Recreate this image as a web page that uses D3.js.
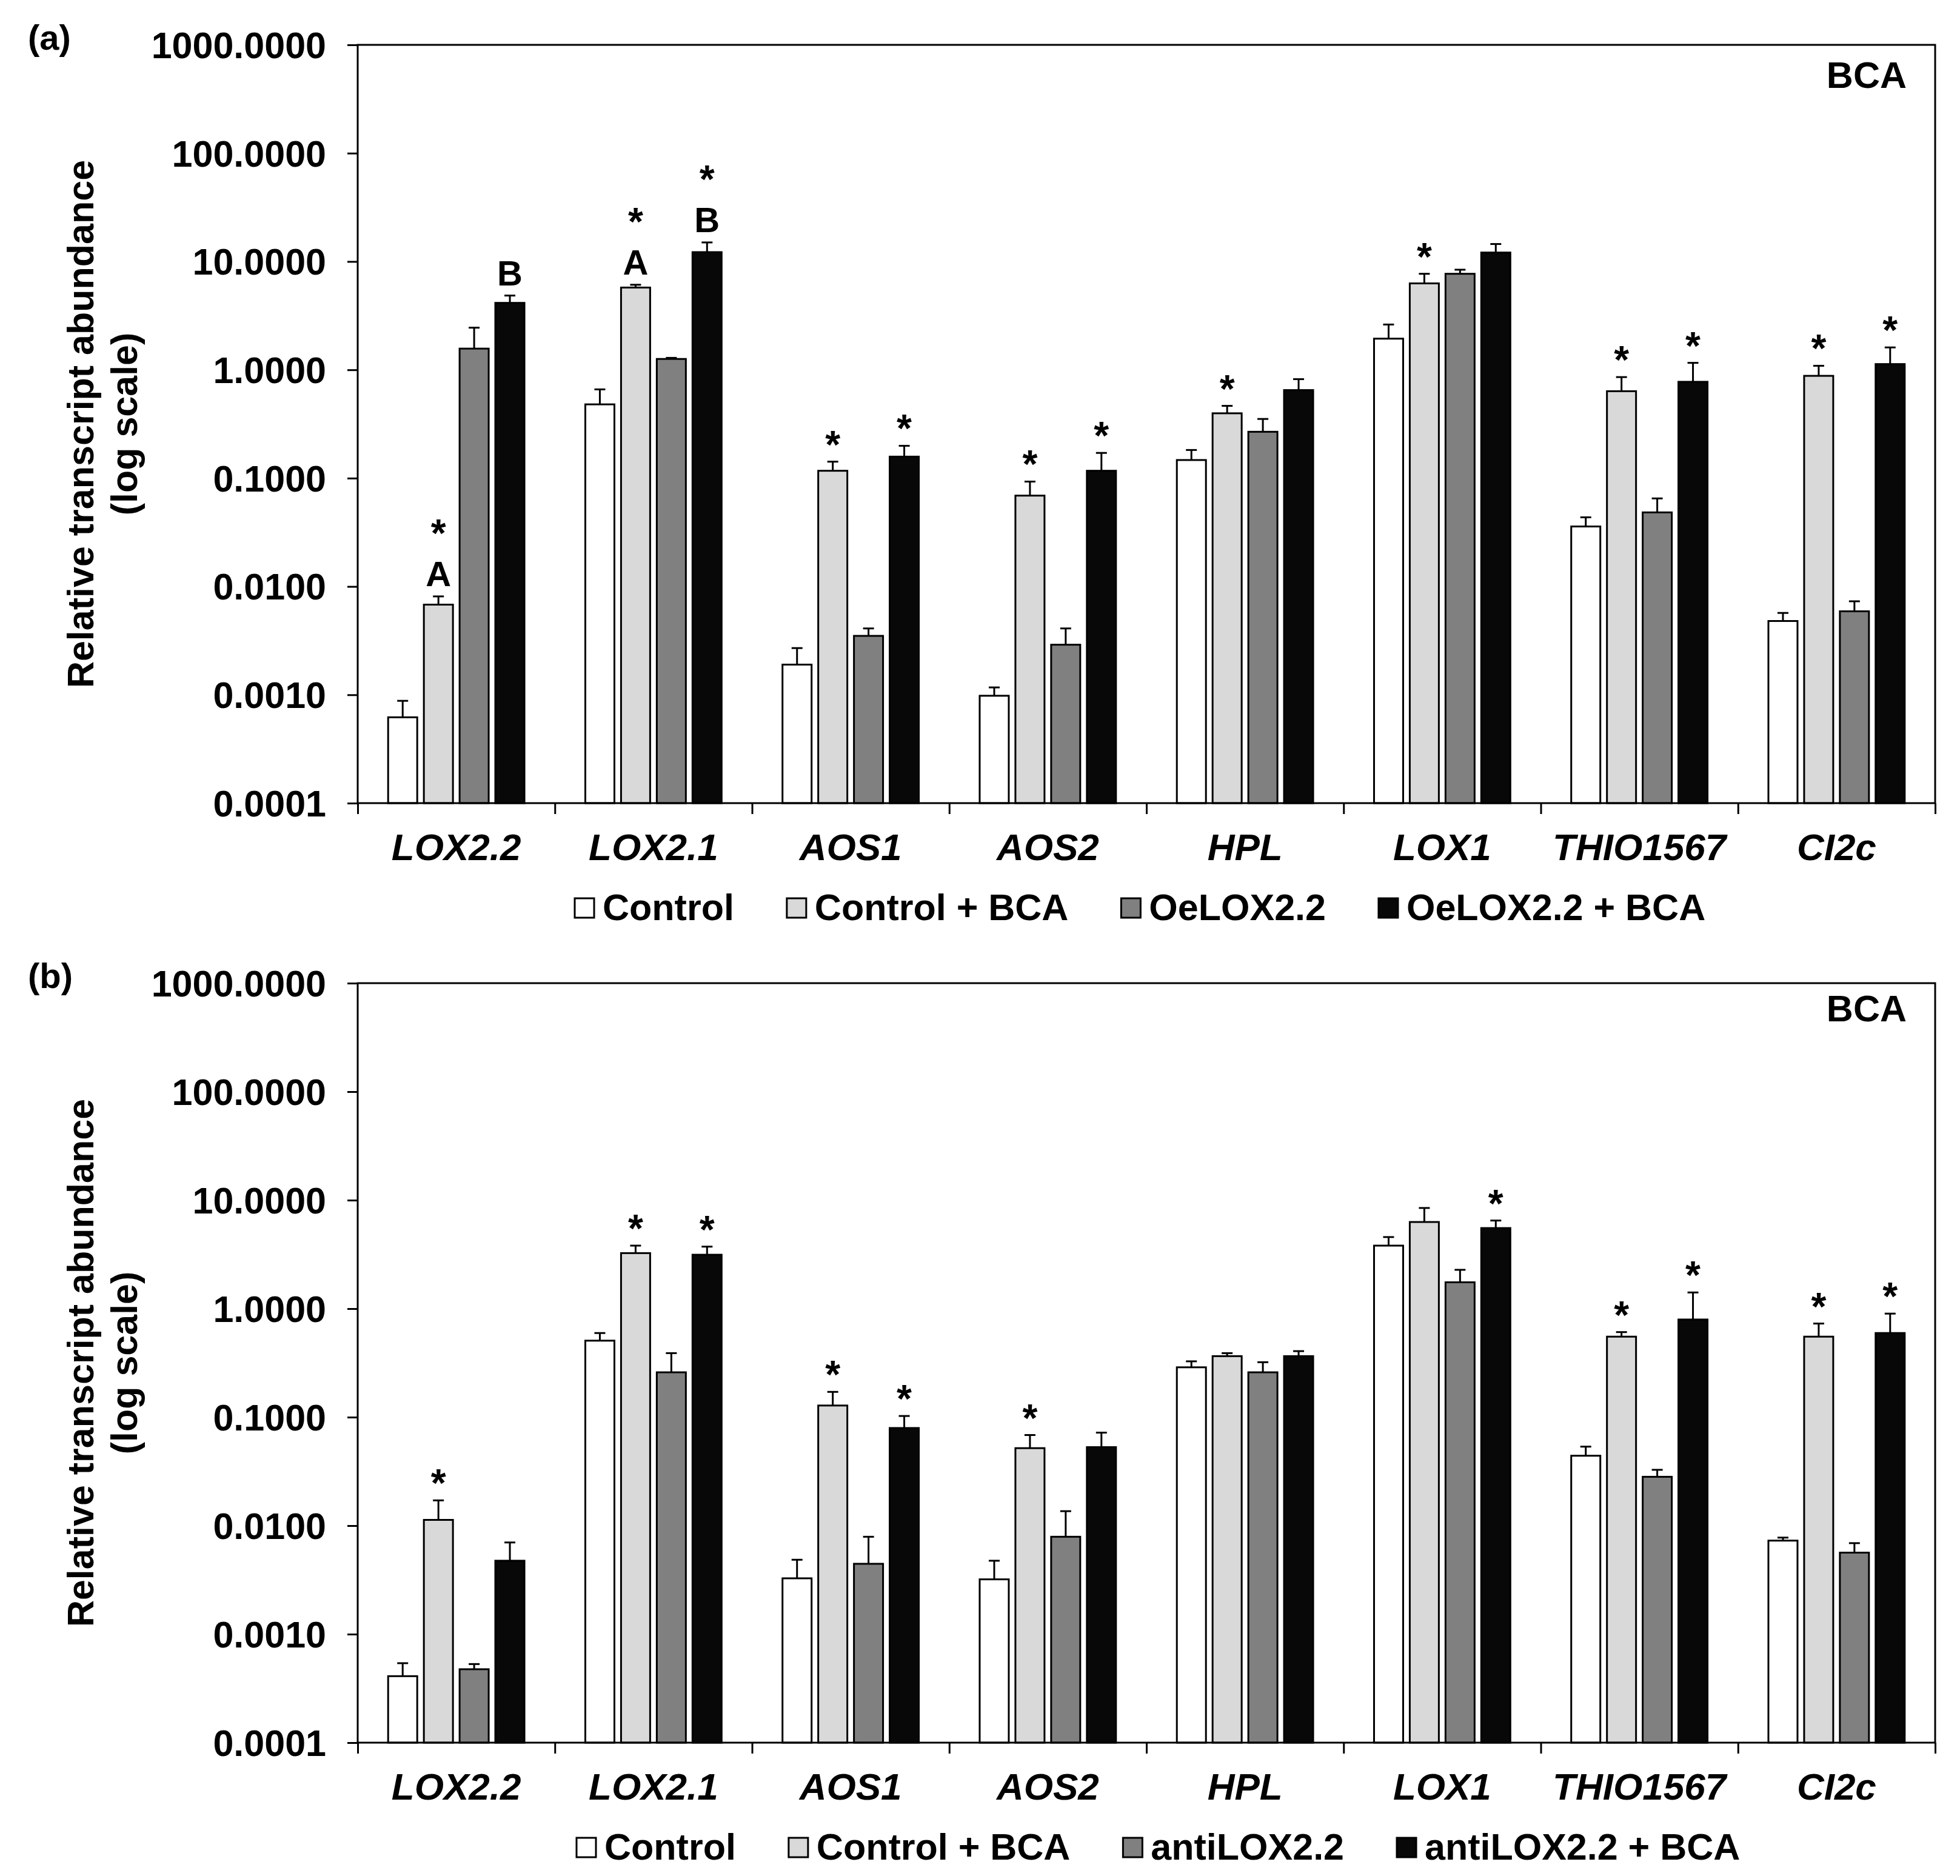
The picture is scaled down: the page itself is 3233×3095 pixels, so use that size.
<!DOCTYPE html>
<html>
<head>
<meta charset="utf-8">
<script src="https://cdn.jsdelivr.net/npm/d3@7"></script>
<style>
  body { margin: 0; background: #fff; }
  svg text { font-family: "Liberation Sans", Arial, sans-serif; font-weight: bold; fill: #000; }
</style>
</head>
<body>
<svg id="chart"></svg>
<script>
// Gene categories and treatment series
const categories = ["LOX2.2", "LOX2.1", "AOS1", "AOS2", "HPL", "LOX1", "THIO1567", "CI2c"];
const seriesA = ["Control", "Control + BCA", "OeLOX2.2", "OeLOX2.2 + BCA"];
const seriesB = ["Control", "Control + BCA", "antiLOX2.2", "antiLOX2.2 + BCA"];

// y ticks (log scale)
const yTicks = [0.0001, 0.001, 0.01, 0.1, 1, 10, 100, 1000];

// Panel (a): means and upper error bar ends, one row per gene
const meansA = [
  [0.00062, 0.0068, 1.57, 4.15],
  [0.48, 5.75, 1.26, 12.2],
  [0.0019, 0.117, 0.0035, 0.158],
  [0.00098, 0.069, 0.0029, 0.117],
  [0.147, 0.397, 0.268, 0.65],
  [1.94, 6.28, 7.7, 12.1],
  [0.0358, 0.635, 0.0483, 0.775],
  [0.0048, 0.88, 0.0059, 1.13]
];
const errTopA = [
  [0.00088, 0.0081, 2.45, 4.85],
  [0.66, 6.1, 1.29, 15.0],
  [0.0027, 0.142, 0.0041, 0.199],
  [0.00117, 0.093, 0.0041, 0.171],
  [0.182, 0.465, 0.352, 0.82],
  [2.62, 7.7, 8.4, 14.5],
  [0.0435, 0.857, 0.065, 1.16],
  [0.0057, 1.09, 0.0073, 1.61]
];
const starsA = [
  [0, 1, 0, 0],
  [0, 1, 0, 1],
  [0, 1, 0, 1],
  [0, 1, 0, 1],
  [0, 1, 0, 0],
  [0, 1, 0, 0],
  [0, 1, 0, 1],
  [0, 1, 0, 1]
];
const lettersA = [
  ["", "A", "", "B"],
  ["", "A", "", "B"],
  ["", "", "", ""],
  ["", "", "", ""],
  ["", "", "", ""],
  ["", "", "", ""],
  ["", "", "", ""],
  ["", "", "", ""]
];

// Panel (b)
const meansB = [
  [0.00041, 0.0113, 0.000475, 0.00475],
  [0.507, 3.25, 0.259, 3.14],
  [0.00327, 0.128, 0.00445, 0.0794],
  [0.0032, 0.0518, 0.0079, 0.0529],
  [0.288, 0.365, 0.259, 0.365],
  [3.81, 6.29, 1.75, 5.53],
  [0.0441, 0.552, 0.0282, 0.794],
  [0.00728, 0.552, 0.00564, 0.596]
];
const errTopB = [
  [0.00054, 0.0171, 0.00053, 0.0070],
  [0.596, 3.81, 0.389, 3.73],
  [0.00485, 0.171, 0.0079, 0.1025],
  [0.00475, 0.0684, 0.0136, 0.072],
  [0.327, 0.389, 0.321, 0.406],
  [4.57, 8.47, 2.28, 6.49],
  [0.0535, 0.608, 0.0327, 1.41],
  [0.00776, 0.729, 0.0069, 0.90]
];
const starsB = [
  [0, 1, 0, 0],
  [0, 1, 0, 1],
  [0, 1, 0, 1],
  [0, 1, 0, 0],
  [0, 0, 0, 0],
  [0, 0, 0, 1],
  [0, 1, 0, 1],
  [0, 1, 0, 1]
];
const lettersB = categories.map(() => ["", "", "", ""]);

const width = 3233, height = 3095;
const fills = ["#ffffff", "#d9d9d9", "#808080", "#080808"];

const svg = d3.select("#chart")
  .attr("width", width)
  .attr("height", height);

const plotLeft = 590, plotRight = 3192;

function drawPanel(opts) {
  const { top, bottom, series, means, errTop, stars, letters, tag, bcaY, legendX } = opts;

  const y = d3.scaleLog().domain([1e-4, 1e3]).range([bottom, top]);
  const x = d3.scaleBand().domain(categories).range([plotLeft, plotRight]);
  const xs = d3.scaleBand().domain(series).range([0, x.bandwidth()])
    .paddingInner(0.186).paddingOuter(0.852);
  const color = d3.scaleOrdinal().domain(series).range(fills);

  const g = svg.append("g");

  // bars
  const groups = g.selectAll("g.grp")
    .data(categories)
    .join("g")
    .attr("class", "grp")
    .attr("transform", d => `translate(${x(d)},0)`);

  groups.each(function (cat, ci) {
    const grp = d3.select(this);
    const rows = series.map((s, si) => ({
      s, si, v: means[ci][si], e: errTop[ci][si],
      star: stars[ci][si], letter: letters[ci][si]
    }));

    // error bars (upper only)
    grp.selectAll("line.err")
      .data(rows)
      .join("line")
      .attr("x1", d => xs(d.s) + xs.bandwidth() / 2)
      .attr("x2", d => xs(d.s) + xs.bandwidth() / 2)
      .attr("y1", d => y(d.v))
      .attr("y2", d => y(d.e))
      .attr("stroke", "#000")
      .attr("stroke-width", 3);
    grp.selectAll("line.cap")
      .data(rows)
      .join("line")
      .attr("x1", d => xs(d.s) + xs.bandwidth() / 2 - 9)
      .attr("x2", d => xs(d.s) + xs.bandwidth() / 2 + 9)
      .attr("y1", d => y(d.e))
      .attr("y2", d => y(d.e))
      .attr("stroke", "#000")
      .attr("stroke-width", 3);

    grp.selectAll("rect")
      .data(rows)
      .join("rect")
      .attr("x", d => xs(d.s))
      .attr("width", xs.bandwidth())
      .attr("y", d => y(d.v))
      .attr("height", d => bottom - y(d.v))
      .attr("fill", d => color(d.s))
      .attr("stroke", "#000")
      .attr("stroke-width", 3);

    // letters and significance stars
    grp.selectAll("text.letter")
      .data(rows.filter(d => d.letter))
      .join("text")
      .attr("class", "letter")
      .attr("x", d => xs(d.s) + xs.bandwidth() / 2)
      .attr("y", d => y(d.e) - 17)
      .attr("text-anchor", "middle")
      .style("font-size", "58px")
      .text(d => d.letter);

    grp.selectAll("text.star")
      .data(rows.filter(d => d.star))
      .join("text")
      .attr("class", "star")
      .attr("x", d => xs(d.s) + xs.bandwidth() / 2)
      .attr("y", d => y(d.e) - (d.letter ? 82 : 6))
      .attr("text-anchor", "middle")
      .style("font-size", "64px")
      .text("*");
  });

  // frame
  g.append("rect")
    .attr("x", plotLeft)
    .attr("y", top)
    .attr("width", plotRight - plotLeft)
    .attr("height", bottom - top)
    .attr("fill", "none")
    .attr("stroke", "#000")
    .attr("stroke-width", 3);

  // y axis
  const yAxis = g.append("g")
    .attr("transform", `translate(${plotLeft},0)`)
    .call(d3.axisLeft(y).tickValues(yTicks).tickFormat(d3.format(".4f"))
      .tickSize(17).tickPadding(35));
  yAxis.select(".domain").remove();
  yAxis.selectAll(".tick line").attr("stroke-width", 3);
  yAxis.selectAll(".tick text")
    .attr("font-family", null)
    .style("font-size", "61px")
    .attr("dy", "0.35em");
  yAxis.attr("font-family", null).attr("font-size", null);

  // x axis: boundary ticks
  const xb = d3.scaleLinear().domain([0, categories.length]).range([plotLeft, plotRight]);
  const xAxis = g.append("g")
    .attr("transform", `translate(0,${bottom})`)
    .call(d3.axisBottom(xb).ticks(categories.length).tickFormat("").tickSize(18));
  xAxis.select(".domain").remove();
  xAxis.selectAll(".tick line").attr("stroke-width", 3);

  // category labels
  g.selectAll("text.cat")
    .data(categories)
    .join("text")
    .attr("class", "cat")
    .attr("x", d => x(d) + x.bandwidth() / 2)
    .attr("y", bottom + 94)
    .attr("text-anchor", "middle")
    .style("font-size", "62px")
    .style("font-style", "italic")
    .text(d => d);

  // y title
  const cy = (top + bottom) / 2;
  g.append("text")
    .attr("transform", `translate(154,${cy}) rotate(-90)`)
    .attr("text-anchor", "middle")
    .style("font-size", "61px")
    .text("Relative transcript abundance");
  g.append("text")
    .attr("transform", `translate(226,${cy}) rotate(-90)`)
    .attr("text-anchor", "middle")
    .style("font-size", "61px")
    .text("(log scale)");

  // panel tag and BCA
  g.append("text")
    .attr("x", 46)
    .attr("y", top + 8)
    .style("font-size", "58px")
    .text(tag);
  g.append("text")
    .attr("x", 3145)
    .attr("y", top + bcaY)
    .attr("text-anchor", "end")
    .style("font-size", "61px")
    .text("BCA");

  // legend
  const legend = g.append("g")
    .attr("transform", `translate(${legendX},${bottom + 193})`);
  let lx = 0;
  series.forEach((s, i) => {
    legend.append("rect")
      .attr("x", lx)
      .attr("y", -36)
      .attr("width", 32)
      .attr("height", 32)
      .attr("fill", fills[i])
      .attr("stroke", "#000")
      .attr("stroke-width", 3);
    const t = legend.append("text")
      .attr("x", lx + 46)
      .attr("y", 0)
      .style("font-size", "61px")
      .text(s);
    lx += 46 + t.node().getComputedTextLength() + 87;
  });
}

drawPanel({
  top: 74, bottom: 1325, series: seriesA,
  means: meansA, errTop: errTopA, stars: starsA, letters: lettersA,
  tag: "(a)", bcaY: 71, legendX: 948
});

drawPanel({
  top: 1622, bottom: 2875, series: seriesB,
  means: meansB, errTop: errTopB, stars: starsB, letters: lettersB,
  tag: "(b)", bcaY: 63, legendX: 951
});
</script>
</body>
</html>
